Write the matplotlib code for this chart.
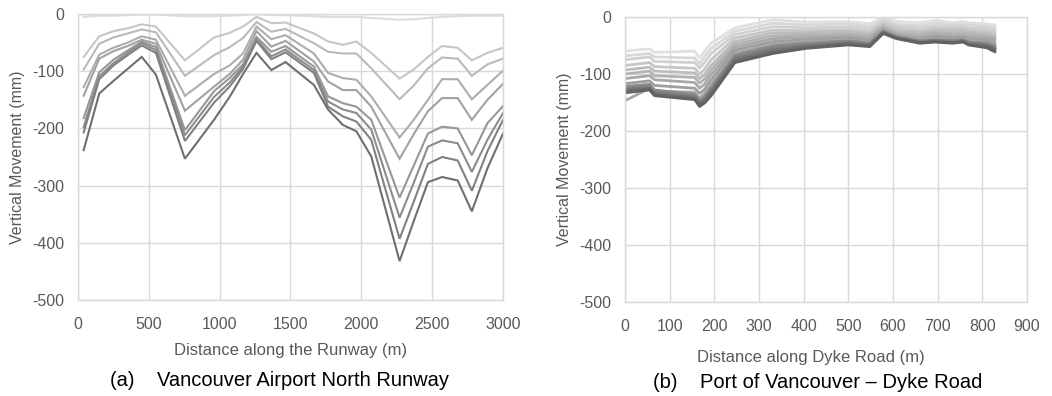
import matplotlib
matplotlib.use("Agg")
import matplotlib.pyplot as plt

plt.rcParams['font.family'] = ['Liberation Sans', 'DejaVu Sans']
plt.rcParams['axes.unicode_minus'] = False

# ---------------- (a) Vancouver Airport North Runway ----------------
runway_x = [40, 150, 250, 350, 450, 550, 755, 960, 1070, 1165, 1260, 1365, 1465,
            1665, 1765, 1870, 1965, 2070, 2270, 2370, 2470, 2570, 2680, 2780, 2890, 3000]
runway_series = [
    [-5, -3, -3, -2, -1, -1, -4, -4, -3, -2, 0, -2, -2, -4, -5, -5, -5, -7, -10, -9, -7, -5, -4, -3, -3, -3],
    [-75, -39, -30, -25, -18, -22, -81, -41, -33, -22, -5, -16, -15, -34, -48, -54, -48, -68, -113, -97, -75, -56, -59, -81, -68, -59],
    [-97, -52, -41, -34, -27, -32, -108, -72, -58, -42, -14, -31, -26, -51, -66, -69, -69, -95, -149, -125, -95, -76, -78, -108, -88, -78],
    [-128, -71, -59, -50, -39, -45, -143, -105, -90, -69, -22, -44, -37, -69, -103, -112, -115, -144, -216, -185, -150, -114, -114, -149, -124, -99],
    [-143, -78, -65, -56, -45, -52, -169, -127, -105, -80, -30, -57, -47, -83, -118, -133, -133, -162, -253, -210, -170, -147, -147, -185, -150, -122],
    [-182, -102, -80, -64, -48, -58, -203, -135, -112, -88, -40, -66, -56, -92, -144, -156, -162, -185, -321, -265, -209, -197, -200, -247, -191, -161],
    [-198, -109, -86, -68, -51, -63, -212, -145, -120, -92, -44, -74, -62, -98, -153, -167, -173, -202, -356, -295, -232, -221, -226, -276, -220, -173],
    [-207, -114, -90, -72, -55, -68, -222, -155, -127, -96, -47, -79, -67, -103, -162, -179, -188, -220, -393, -328, -262, -250, -256, -309, -240, -185],
    [-238, -139, -117, -96, -75, -106, -253, -185, -145, -105, -68, -98, -84, -124, -167, -194, -205, -249, -432, -362, -294, -285, -291, -345, -270, -209],
]
runway_colors = ['#dcdcdc', '#c6c6c6', '#bababa', '#adadad', '#a2a2a2',
                 '#979797', '#8c8c8c', '#818181', '#6f6f6f']

# ---------------- (b) Port of Vancouver - Dyke Road ----------------
dyke_x = [0, 55, 66, 156, 167, 178, 193, 246, 331, 406, 500, 548, 578, 608,
          660, 694, 734, 757, 769, 810, 828]
dyke_series = [
    [-60, -56, -62, -60, -72, -60, -46, -19, -5, -9, -8, -12, 0, -8, -10, -6, -10, -8, -10, -12, -14],
    [-68, -64, -70, -72, -82, -70, -55, -25, -11, -14, -12, -17, -4, -13, -15, -11, -14, -13, -14, -16, -18],
    [-75, -70, -78, -80, -90, -80, -64, -31, -17, -19, -17, -21, -8, -17, -19, -16, -18, -17, -19, -20, -22],
    [-85, -80, -87, -90, -100, -92, -75, -37, -23, -24, -22, -26, -12, -21, -24, -20, -22, -21, -23, -25, -27],
    [-93, -88, -95, -98, -108, -101, -85, -43, -28, -28, -26, -30, -15, -25, -28, -24, -26, -25, -27, -29, -32],
    [-100, -95, -103, -106, -116, -109, -93, -48, -33, -32, -30, -34, -18, -28, -32, -28, -30, -29, -31, -33, -36],
    [-108, -103, -110, -115, -125, -118, -101, -53, -38, -36, -34, -38, -20, -31, -36, -32, -34, -33, -35, -37, -40],
    [-117, -112, -120, -125, -134, -127, -110, -58, -43, -40, -37, -41, -22, -33, -39, -35, -37, -36, -39, -41, -45],
    [-147, -125, -130, -132, -142, -134, -118, -63, -47, -43, -40, -44, -24, -35, -41, -38, -40, -39, -42, -44, -48],
    [-122, -118, -128, -136, -146, -140, -124, -67, -51, -46, -42, -46, -25, -35, -42, -40, -41, -40, -44, -46, -51],
    [-126, -122, -132, -139, -149, -144, -128, -71, -55, -49, -44, -48, -26, -36, -43, -41, -43, -41, -46, -48, -54],
    [-128, -124, -134, -141, -151, -146, -131, -74, -58, -51, -46, -49, -27, -36, -44, -42, -44, -42, -47, -50, -56],
    [-130, -126, -136, -143, -153, -148, -134, -77, -61, -53, -47, -50, -28, -37, -45, -43, -45, -43, -48, -52, -58],
    [-133, -128, -138, -145, -157, -151, -138, -80, -64, -55, -49, -52, -29, -38, -46, -44, -46, -44, -49, -54, -61],
]
dyke_colors = ['#e0e0e0', '#d8d8d8', '#d0d0d0', '#c6c6c6', '#bcbcbc', '#b2b2b2', '#a8a8a8',
               '#9e9e9e', '#a6a6a6', '#8a8a8a', '#808080', '#767676', '#6c6c6c', '#626262']

yticks = [0, -100, -200, -300, -400, -500]
runway_xticks = [0, 500, 1000, 1500, 2000, 2500, 3000]
dyke_xticks = [0, 100, 200, 300, 400, 500, 600, 700, 800, 900]

TXT = '#595959'
GRID = '#d9d9d9'

fig = plt.figure(figsize=(10.52, 3.96), dpi=100)
ax1 = fig.add_axes([78 / 1052, 1 - 300 / 396, 425 / 1052, 286 / 396])
ax2 = fig.add_axes([625 / 1052, 1 - 302 / 396, 402 / 1052, 285 / 396])


def style(ax, xticks, xmax):
    ax.set_xlim(0, xmax)
    ax.set_ylim(-500, 0)
    ax.set_xticks(xticks)
    ax.set_yticks(yticks)
    ax.grid(True, color=GRID, linewidth=1.0)
    ax.set_axisbelow(True)
    for s in ax.spines.values():
        s.set_color(GRID)
        s.set_linewidth(1.0)
    ax.tick_params(length=0, labelsize=11.5, labelcolor=TXT)
    ax.tick_params(axis='x', pad=12)
    ax.tick_params(axis='y', pad=10)


for vals, c in zip(runway_series, runway_colors):
    ax1.plot(runway_x, vals, color=c, linewidth=1.5, solid_joinstyle='miter')
style(ax1, runway_xticks, 3000)
ax1.set_xlabel('Distance along the Runway (m)', fontsize=12, color=TXT)
ax1.xaxis.set_label_coords(0.5, -0.150)
ax1.set_ylabel('Vertical Movement (mm)', fontsize=11.5, color=TXT)
ax1.yaxis.set_label_coords(-0.125, 0.5)

for vals, c in zip(dyke_series, dyke_colors):
    ax2.plot(dyke_x, vals, color=c, linewidth=2.0)
style(ax2, dyke_xticks, 900)
ax2.set_xlabel('Distance along Dyke Road (m)', fontsize=12, color=TXT)
ax2.xaxis.set_label_coords(0.463, -0.168)
ax2.set_ylabel('Vertical Movement (mm)', fontsize=11.5, color=TXT)
ax2.yaxis.set_label_coords(-0.132, 0.5)

fig.text(110 / 1052, 1 - 381 / 396, '(a)    Vancouver Airport North Runway',
         fontsize=14.5, color='black', ha='left', va='center')
fig.text(653 / 1052, 1 - 382 / 396, '(b)    Port of Vancouver \u2013 Dyke Road',
         fontsize=14.5, color='black', ha='left', va='center')

fig.savefig('out.png', dpi=100)
